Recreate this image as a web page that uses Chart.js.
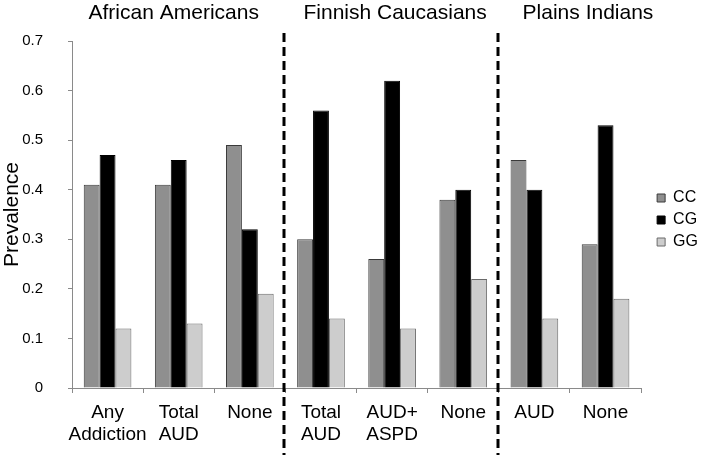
<!DOCTYPE html>
<html>
<head>
<meta charset="utf-8">
<script src="https://cdn.jsdelivr.net/npm/chart.js@4/dist/chart.umd.min.js"></script>
<style>
  html, body { margin: 0; padding: 0; background: #fff; }
  #wrap { width: 705px; height: 455px; position: relative; }
</style>
</head>
<body>
<div id="wrap"><canvas id="c" width="705" height="455"></canvas></div>
<script>
// ---- Data ----
const categories = [
  ['Any', 'Addiction'], ['Total', 'AUD'], ['None'],
  ['Total', 'AUD'], ['AUD+', 'ASPD'], ['None'],
  ['AUD'], ['None']
];
const groupTitles = ['African Americans', 'Finnish Caucasians', 'Plains Indians'];
const seriesNames = ['CC', 'CG', 'GG'];
const ccValues = [0.41, 0.41, 0.49, 0.30, 0.26, 0.38, 0.46, 0.29];
const cgValues = [0.47, 0.46, 0.32, 0.56, 0.62, 0.40, 0.40, 0.53];
const ggValues = [0.12, 0.13, 0.19, 0.14, 0.12, 0.22, 0.14, 0.18];
const yTicks = [0, 0.1, 0.2, 0.3, 0.4, 0.5, 0.6, 0.7];

const FONT = "'Liberation Sans', Arial, sans-serif";

const decorPlugin = {
  id: 'decor',
  afterLayout(chart) {
    const lg = chart.legend;
    if (lg) {
      const dx = 10, dy = -28;
      lg.left += dx; lg.right += dx;
      lg.top += dy; lg.bottom += dy;
    }
  },
  afterDatasetsDraw(chart) {
    const ctx = chart.ctx;
    const x = chart.scales.x;
    ctx.save();
    // dashed separators between groups
    ctx.strokeStyle = '#000';
    ctx.lineWidth = 3;
    ctx.setLineDash([9, 5]);
    [2.5, 5.5].forEach(v => {
      const px = Math.round(x.getPixelForValue(v)) - 1;
      ctx.beginPath();
      ctx.moveTo(px, 33);
      ctx.lineTo(px, 455);
      ctx.stroke();
    });
    ctx.setLineDash([]);
    // group titles
    ctx.fillStyle = '#000';
    ctx.font = '21px ' + FONT;
    ctx.textAlign = 'center';
    ctx.textBaseline = 'alphabetic';
    const centers = [x.getPixelForValue(1) - 5, x.getPixelForValue(4) + 3, x.getPixelForValue(6.5) + 18];
    groupTitles.forEach((t, i) => ctx.fillText(t, centers[i], 19));
    ctx.restore();
  }
};

new Chart(document.getElementById('c'), {
  type: 'bar',
  data: {
    labels: categories,
    datasets: [
      { label: seriesNames[0], data: ccValues, backgroundColor: '#8f8f8f', borderColor: '#3a3a3a', borderWidth: 1 },
      { label: seriesNames[1], data: cgValues, backgroundColor: '#000000', borderColor: '#000000', borderWidth: 1 },
      { label: seriesNames[2], data: ggValues, backgroundColor: '#cdcdcd', borderColor: '#6a6a6a', borderWidth: 1 }
    ]
  },
  options: {
    responsive: false,
    animation: false,
    devicePixelRatioOverride: 1,
    layout: { padding: { top: 41, right: 7, bottom: 0, left: 0 } },
    datasets: { bar: { categoryPercentage: 0.67, barPercentage: 1.0 } },
    plugins: {
      legend: {
        position: 'right',
        labels: {
          boxWidth: 8, boxHeight: 8, padding: 6,
          color: '#000',
          font: { family: FONT, size: 16 }
        }
      },
      tooltip: { enabled: false },
      title: { display: false }
    },
    scales: {
      x: {
        afterFit(s) { s.height = 67; },
        grid: { offset: true, drawOnChartArea: false, drawTicks: true, tickLength: 5, color: '#8a8a8a' },
        border: { display: true, color: '#8a8a8a' },
        ticks: { color: '#000', padding: 9, maxRotation: 0, autoSkip: false,
                 font: { family: FONT, size: 19, lineHeight: 1.15 } }
      },
      y: {
        min: 0, max: 0.7,
        afterFit(s) { s.width = 72; },
        afterBuildTicks(s) { s.ticks = yTicks.map(v => ({ value: v })); },
        grid: { drawOnChartArea: false, drawTicks: true, tickLength: 4, color: '#8a8a8a' },
        border: { display: true, color: '#8a8a8a' },
        ticks: { color: '#000', padding: 25, font: { family: FONT, size: 15 },
                 callback: v => String(Math.round(v * 10) / 10) },
        title: { display: true, text: 'Prevalence', color: '#000', padding: 0,
                 font: { family: FONT, size: 21 } }
      }
    }
  },
  plugins: [decorPlugin]
});
</script>
</body>
</html>
